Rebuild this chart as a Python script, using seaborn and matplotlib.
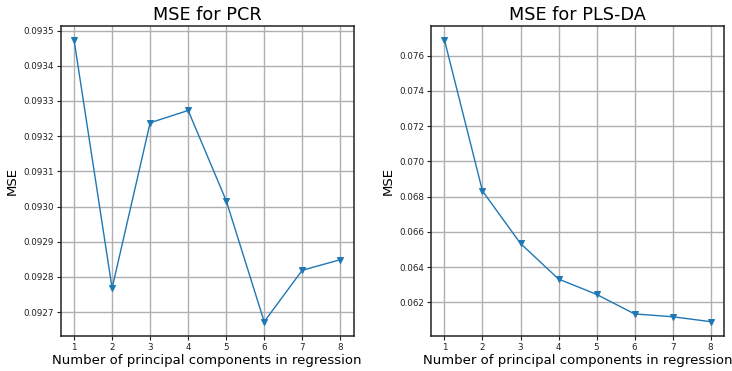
import matplotlib
matplotlib.use("Agg")
import matplotlib.pyplot as plt
import seaborn as sns
import pandas as pd

components = [1, 2, 3, 4, 5, 6, 7, 8]
mse_pcr = [0.093473, 0.092768, 0.093238, 0.093273, 0.093017, 0.092673, 0.092819, 0.092849]
mse_plsda = [0.07689, 0.06832, 0.06534, 0.06332, 0.06245, 0.06134, 0.06118, 0.06090]
titles = ["MSE for PCR", "MSE for PLS-DA"]
xlabel = "Number of principal components in regression"
ylabel = "MSE"

sns.set_style("ticks")
plt.rcParams.update({
    "axes.edgecolor": "#222222",
    "axes.linewidth": 1.1,
    "grid.color": "#b0b0b0",
    "grid.linewidth": 1.0,
    "xtick.color": "#222222",
    "ytick.color": "#222222",
    "text.color": "black",
    "axes.labelcolor": "black",
})

fig, axes = plt.subplots(1, 2, figsize=(7.32, 3.71), dpi=100)
fig.subplots_adjust(left=0.083, right=0.989, top=0.93, bottom=0.095, wspace=0.265)

for ax, values, title in zip(axes, [mse_pcr, mse_plsda], titles):
    df = pd.DataFrame({"k": components, "mse": values})
    sns.lineplot(data=df, x="k", y="mse", marker="v", markersize=5,
                 color="#1f77b4", linewidth=1.0, markeredgecolor="#1f77b4", ax=ax)
    ax.set_title(title, fontsize=12.7, pad=4, color="black")
    ax.set_xlabel(xlabel, fontsize=9.5, labelpad=2)
    ax.set_ylabel(ylabel, fontsize=9.5, labelpad=3)
    ax.set_xticks(components)
    ax.tick_params(labelsize=6.3, length=3, width=0.8, pad=2)
    ax.grid(True)
    for s in ax.spines.values():
        s.set_visible(True)

axes[0].yaxis.set_major_formatter(matplotlib.ticker.FormatStrFormatter("%.4f"))
axes[1].yaxis.set_major_formatter(matplotlib.ticker.FormatStrFormatter("%.3f"))

fig.savefig("out.png", dpi=100)
